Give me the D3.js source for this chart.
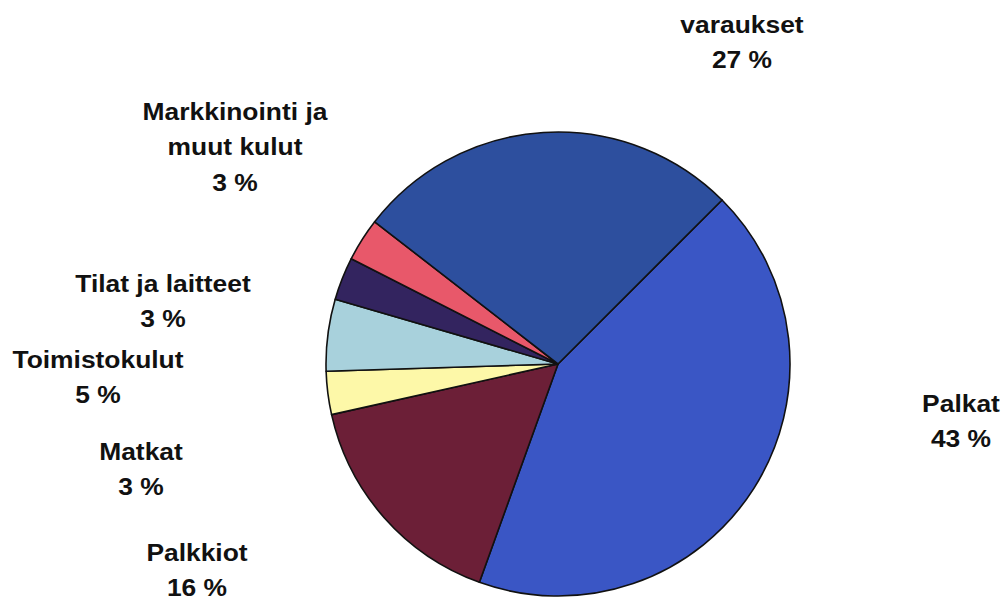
<!DOCTYPE html>
<html>
<head>
<meta charset="utf-8">
<script src="https://cdn.jsdelivr.net/npm/d3@7"></script>
<style>
  html, body { margin: 0; padding: 0; background: #fff; }
  svg { display: block; }
</style>
</head>
<body>
<svg id="chart" width="1004" height="602"></svg>
<script>
// Data
const categories = ["Palkat", "Palkkiot", "Matkat", "Toimistokulut", "Tilat ja laitteet", "Markkinointi ja muut kulut", "varaukset"];
const labelLines = [["Palkat"], ["Palkkiot"], ["Matkat"], ["Toimistokulut"], ["Tilat ja laitteet"], ["Markkinointi ja", "muut kulut"], ["varaukset"]];
const values = [43, 16, 3, 5, 3, 3, 27];
const colors = ["#3a56c5", "#6c1f37", "#fdf8a8", "#a8d1dc", "#33245f", "#e8586a", "#2d4f9e"];
// label anchor (centre x, first baseline y) for each slice
const labelAnchor = [[961, 412], [197, 561], [141, 460], [98, 368], [163, 292], [235, 120], [742, 33]];

const svg = d3.select("#chart");
const cx = 558, cy = 364, r = 232;

const pie = d3.pie()
  .sort(null)
  .value(d => d.value)
  .startAngle(45 * Math.PI / 180)
  .endAngle(45 * Math.PI / 180 + 2 * Math.PI);

const data = categories.map((c, i) => ({ name: c, value: values[i], color: colors[i], lines: labelLines[i], pos: labelAnchor[i] }));
const arcs = pie(data);
const arc = d3.arc().innerRadius(0).outerRadius(r);

const g = svg.append("g").attr("transform", `translate(${cx},${cy})`);
g.selectAll("path")
  .data(arcs)
  .join("path")
  .attr("d", arc)
  .attr("fill", d => d.data.color)
  .attr("stroke", "#111")
  .attr("stroke-width", 1.6)
  .attr("stroke-linejoin", "round");

const lineH = 35.5;
const lg = svg.append("g");
data.forEach(d => {
  const t = lg.append("text")
    .attr("transform", `translate(${d.pos[0]},${d.pos[1]}) scale(1.1,1)`)
    .attr("text-anchor", "middle")
    .attr("font-family", "Liberation Sans, Arial, sans-serif")
    .attr("font-weight", "bold")
    .attr("font-size", 24)
    .attr("fill", "#111");
  const allLines = d.lines.concat([`${d.value} %`]);
  allLines.forEach((ln, i) => {
    t.append("tspan").attr("x", 0).attr("y", i * lineH).text(ln);
  });
});
</script>
</body>
</html>
